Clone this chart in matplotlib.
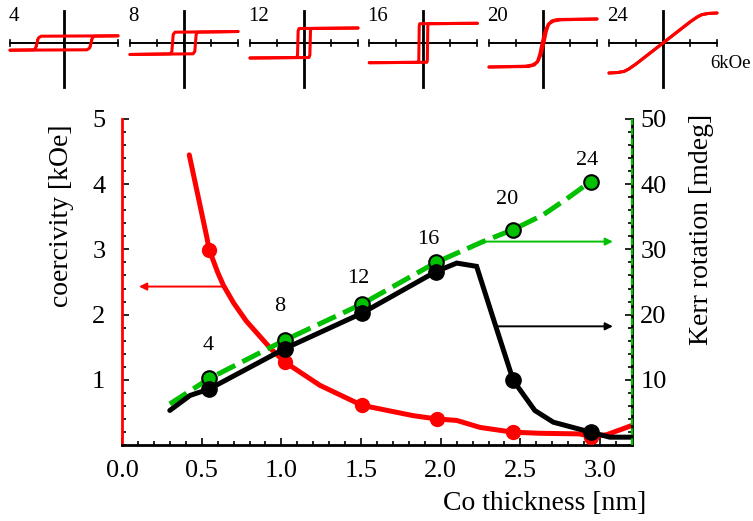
import numpy as np
import matplotlib
matplotlib.use("Agg")
import matplotlib.pyplot as plt
from matplotlib.ticker import MultipleLocator, FormatStrFormatter

plt.rcParams['font.family'] = ['Liberation Serif', 'DejaVu Serif']

# coercivity (left axis, kOe)
hc_x = [0.422, 0.531, 0.548, 0.60, 0.636, 0.70, 0.78, 0.86, 0.94, 1.023, 1.242, 1.504,
        1.827, 1.974, 2.10, 2.246, 2.451, 2.62, 2.873, 2.94, 3.04, 3.2]
hc_y = [4.45, 3.20, 2.99, 2.65, 2.45, 2.18, 1.90, 1.68, 1.46, 1.27, 0.915, 0.61,
        0.45, 0.40, 0.377, 0.27, 0.197, 0.18, 0.17, 0.13, 0.157, 0.30]
hc_dot_x = [0.548, 1.023, 1.504, 1.974, 2.451, 2.94]
hc_dot_y = [2.99, 1.27, 0.61, 0.40, 0.197, 0.13]

# Kerr rotation, black curve (right axis, mdeg)
kb_x = [0.30, 0.427, 0.548, 1.023, 1.504, 1.97, 2.10, 2.225, 2.34, 2.455,
        2.59, 2.706, 2.94, 3.06, 3.2]
kb_y = [5.3, 7.6, 8.6, 14.8, 20.2, 26.6, 27.9, 27.4, 18.6, 9.9,
        5.3, 3.5, 1.97, 1.2, 1.2]
kb_dot_x = [0.548, 1.023, 1.504, 1.97, 2.455, 2.94]
kb_dot_y = [8.6, 14.8, 20.2, 26.6, 9.9, 1.97]

# Kerr rotation, green dashed curve (right axis, mdeg)
kg_x = [0.30, 0.548, 1.023, 1.504, 1.97, 2.265, 2.451, 2.643, 2.81, 2.94]
kg_y = [6.3, 10.2, 16.1, 21.6, 28.0, 31.2, 33.0, 35.3, 38.1, 40.4]
kg_dot_x = [0.548, 1.023, 1.504, 1.97, 2.451, 2.94]
kg_dot_y = [10.2, 16.1, 21.6, 28.0, 33.0, 40.4]

# monolayer labels above green points
ml_labels = ['4', '8', '12', '16', '20', '24']
ml_x = [0.541, 0.991, 1.483, 1.92, 2.415, 2.92]
ml_y = [15.3, 21.2, 25.5, 31.5, 37.6, 43.6]

# hysteresis loops (descending branch, H in kOe, M in arb. units);
# ascending branch is the point reflection
loop_H = [
    [6, -2.55, -2.85, -3.15, -3.35, -6],
    [6, -1.0, -1.2, -1.35, -1.5, -6],
    [6, -0.55, -0.65, -0.72, -0.8, -6],
    [6, -0.4, -0.45, -0.5, -0.55, -6],
    [6, 2.0, 1.2, 0.6, 0.2, -0.1, -0.35, -0.6, -0.95, -1.6, -6],
    [6, 5.0, 4.3, 3.8, 3.0, 0, -3.0, -3.8, -4.3, -5.0, -6],
]
loop_M = [
    [7.2, 6.8, 5, -5, -6.8, -7.2],
    [11.5, 10.8, 8.5, -8.5, -10.8, -11.5],
    [15, 14.5, 12, -12, -14.5, -15],
    [19.7, 19.3, 17, -17, -19.3, -19.7],
    [24, 23.2, 22, 19, 11, 0, -11, -18, -22, -23.5, -24],
    [30, 29.5, 28.3, 26, 21, 0, -21, -26, -28.3, -29.5, -30],
]

W, H = 753, 521
fig = plt.figure(figsize=(W / 100, H / 100), dpi=100)

ax = fig.add_axes([122 / W, (H - 445) / H, 510 / W, 326 / H])
ax2 = ax.twinx()

RED = '#ff0000'
GREEN = '#00c000'

ax.plot(hc_x, hc_y, color=RED, lw=3.6, solid_capstyle='round',
        solid_joinstyle='round', zorder=2)
ax.plot(hc_dot_x, hc_dot_y, 'o', color=RED, ms=10, zorder=3)
ax.annotate('', xy=(0.107, 2.43), xytext=(0.636, 2.43),
            arrowprops=dict(arrowstyle='-|>', color=RED, lw=1.4, mutation_scale=11,
                            shrinkA=0, shrinkB=0))

ax2.plot(kg_x, kg_y, color=GREEN, lw=3.6, dashes=(4, 1.6), zorder=2)
ax2.plot(kg_dot_x, kg_dot_y, 'o', color=GREEN, mec='black', mew=1.5, ms=10.5, zorder=3)
ax2.plot(kb_x, kb_y, color='black', lw=3.6, solid_capstyle='round',
         solid_joinstyle='miter', zorder=4)
ax2.plot(kb_dot_x, kb_dot_y, 'o', color='black', ms=11, zorder=5)
ax2.annotate('', xy=(3.08, 31.2), xytext=(2.265, 31.2),
             arrowprops=dict(arrowstyle='-|>', color=GREEN, lw=1.4, mutation_scale=11,
                             shrinkA=0, shrinkB=0))
ax2.annotate('', xy=(3.08, 18.2), xytext=(2.36, 18.2),
             arrowprops=dict(arrowstyle='-|>', color='black', lw=1.4, mutation_scale=11,
                             shrinkA=0, shrinkB=0))
for lab, x, y in zip(ml_labels, ml_x, ml_y):
    ax2.text(x, y, lab, ha='center', va='center', fontsize=16)

ax.set_xlim(0, 3.2)
ax.set_ylim(0, 5)
ax2.set_ylim(0, 50)

ax.xaxis.set_major_locator(MultipleLocator(0.5))
ax.xaxis.set_minor_locator(MultipleLocator(0.1))
ax.xaxis.set_major_formatter(FormatStrFormatter('%.1f'))
ax.set_yticks([1, 2, 3, 4, 5])
ax.yaxis.set_minor_locator(MultipleLocator(0.2))
ax2.set_yticks([10, 20, 30, 40, 50])
ax2.yaxis.set_minor_locator(MultipleLocator(2))

ax.tick_params(axis='both', which='both', direction='in', labelsize=19, width=1.2)
ax.tick_params(axis='both', which='major', length=5)
ax.tick_params(axis='both', which='minor', length=3)
ax.tick_params(axis='x', pad=11)
ax.tick_params(axis='y', pad=12, right=False)
ax.tick_params(axis='x', top=False)
ax2.tick_params(axis='y', which='both', direction='in', labelsize=19, width=1.2, pad=6)
ax2.tick_params(axis='y', which='major', length=5)
ax2.tick_params(axis='y', which='minor', length=3)

for a in (ax, ax2):
    a.spines['top'].set_visible(False)
ax.spines['left'].set_color(RED)
ax.spines['left'].set_linewidth(2)
ax.spines['bottom'].set_linewidth(2)
ax2.spines['left'].set_visible(False)
ax2.spines['bottom'].set_visible(False)
ax2.spines['right'].set_linewidth(2)
ax2.plot([1, 1], [0, 1], transform=ax2.transAxes, color=GREEN, lw=1.6,
         dashes=(3, 1.5), clip_on=False, zorder=6)

fig.text(62 / W, 1 - 216 / H, 'coercivity [kOe]', rotation=90,
         ha='center', va='center', fontsize=20)
fig.text(702 / W, 1 - 229 / H, 'Kerr rotation [mdeg]', rotation=90,
         ha='center', va='center', fontsize=20)
fig.text(545 / W, 1 - 503 / H, 'Co thickness [nm]', ha='center', va='center', fontsize=20)

# hysteresis loop insets
centers = [64, 184, 304, 423.3, 543, 663]
for i, cx in enumerate(centers):
    ia = fig.add_axes([(cx - 56.7) / W, (H - 90) / H, 113.4 / W, 82 / H])
    ia.set_xlim(-6.3, 6.3)
    ia.set_ylim(-47, 35)
    ia.axis('off')
    ia.plot([-6, 6], [0, 0], color='black', lw=1.4)
    for t in [-6, -3, 0, 3, 6]:
        ia.plot([t, t], [-3.3, 3.3], color='black', lw=1.2)
    ia.plot([0, 0], [-44, 32], color='black', lw=2)
    hh = np.array(loop_H[i])
    mm = np.array(loop_M[i])
    ia.plot(hh, mm, color=RED, lw=2.2, solid_joinstyle='round', solid_capstyle='round')
    ia.plot(-hh, -mm, color=RED, lw=2.2, solid_joinstyle='round', solid_capstyle='round')
    ia.text(-6.2, 26.6, ml_labels[i], ha='left', va='center', fontsize=15, clip_on=False)
    if i == len(centers) - 1:
        ia.text(5.2, -20, '6kOe', ha='left', va='center', fontsize=13.5, clip_on=False)

fig.savefig('out.png', dpi=100)
